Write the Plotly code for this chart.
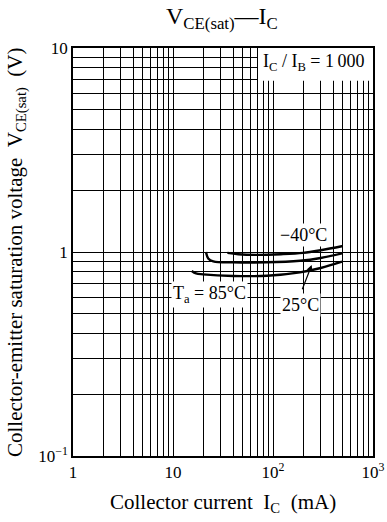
import plotly.graph_objects as go

# Data
ic_m40 = [35, 45, 70, 120, 200, 300, 500]
v_m40 = [0.99, 0.975, 0.968, 0.975, 0.99, 1.02, 1.07]

ic_25 = [21.4, 22.5, 25.3, 40, 86, 186, 300, 490]
v_25 = [1.0, 0.93, 0.90, 0.89, 0.89, 0.906, 0.935, 0.985]

ic_85 = [15.4, 17, 20, 40, 87, 186, 300, 490]
v_85 = [0.807, 0.785, 0.777, 0.763, 0.765, 0.795, 0.835, 0.896]

x_tickvals = [1, 2, 3, 4, 5, 6, 7, 8, 9, 10, 20, 30, 40, 50, 60, 70, 80, 90,
              100, 200, 300, 400, 500, 600, 700, 800, 900, 1000]
x_ticktext = ["1"] + [""] * 8 + ["10"] + [""] * 8 + ["10<sup>2</sup>"] + [""] * 8 + ["10<sup>3</sup>"]
y_tickvals = [0.1, 0.2, 0.3, 0.4, 0.5, 0.6, 0.7, 0.8, 0.9, 1, 2, 3, 4, 5, 6, 7, 8, 9, 10]
y_ticktext = ["10<sup>\u22121</sup>"] + [""] * 8 + ["1"] + [""] * 8 + ["10"]

FONT = "Liberation Serif"
BLACK = "black"
SP2 = "\u00a0\u00a0"

fig = go.Figure()
for xs, ys in [(ic_m40, v_m40), (ic_25, v_25), (ic_85, v_85)]:
    fig.add_trace(go.Scatter(x=xs, y=ys, mode="lines",
                             line=dict(color=BLACK, width=2.4, shape="spline"),
                             showlegend=False, hoverinfo="skip"))

fig.add_shape(type="rect", xref="x", yref="y", x0=70.8, x1=1000, y0=6.9, y1=10,
              fillcolor="white", line=dict(width=0), layer="between")

# annotation coordinates on log axes are log10 values
fig.add_annotation(x=1, xref="paper", y=1, yref="y", xanchor="right", yanchor="top",
                   text="I<sub>C</sub> / I<sub>B</sub> = 1\u2009000", showarrow=False,
                   font=dict(family=FONT, size=18, color=BLACK), xshift=-6, yshift=-1)
fig.add_annotation(x=2.30, y=0.083, xref="x", yref="y", text="\u221240\u00b0C",
                   showarrow=False, bgcolor="white", borderpad=1,
                   font=dict(family=FONT, size=18, color=BLACK))
fig.add_annotation(x=1.36, y=-0.21, xref="x", yref="y", text="T<sub>a</sub> = 85\u00b0C",
                   showarrow=False, bgcolor="white", borderpad=1,
                   font=dict(family=FONT, size=18, color=BLACK))
fig.add_annotation(x=2.27, y=-0.26, xref="x", yref="y", text="25\u00b0C",
                   showarrow=False, bgcolor="white", borderpad=1,
                   font=dict(family=FONT, size=18, color=BLACK))
fig.add_annotation(x=2.387, y=-0.064, xref="x", yref="y", ax=2.287, ay=-0.19,
                   axref="x", ayref="y", text="", showarrow=True,
                   arrowhead=2, arrowsize=1, arrowwidth=1.2, arrowcolor=BLACK)

# title and axis titles
fig.add_annotation(x=0.497, xref="paper", y=1, yref="paper", yanchor="middle", yshift=30,
                   text="V<sub>CE(sat)</sub>\u2014I<sub>C</sub>", showarrow=False,
                   font=dict(family=FONT, size=24, color=BLACK))
fig.add_annotation(x=0.5, xref="paper", y=0, yref="paper", yanchor="middle", yshift=-47,
                   text="Collector current" + SP2 + "I<sub>C</sub>" + SP2 + "(mA)",
                   showarrow=False, font=dict(family=FONT, size=21, color=BLACK))
fig.add_annotation(x=0, xref="paper", y=0.5, yref="paper", xanchor="center", xshift=-57,
                   textangle=-90,
                   text="Collector-emitter saturation voltage" + SP2 + "V<sub>CE(sat)</sub>" + SP2 + "(V)",
                   showarrow=False, font=dict(family=FONT, size=21, color=BLACK))

fig.update_layout(
    width=387, height=522,
    margin=dict(l=73, r=14, t=48, b=66),
    paper_bgcolor="white", plot_bgcolor="white",
    font=dict(family=FONT, color=BLACK, size=17),
    xaxis=dict(type="log", range=[0, 3], tickvals=x_tickvals, ticktext=x_ticktext,
               showgrid=True, gridcolor=BLACK, gridwidth=1, ticks="",
               showline=True, linecolor=BLACK, linewidth=1.5, mirror=True,
               zeroline=False, automargin=False,
               tickfont=dict(family=FONT, size=17, color=BLACK)),
    yaxis=dict(type="log", range=[-1, 1], tickvals=y_tickvals, ticktext=y_ticktext,
               showgrid=True, gridcolor=BLACK, gridwidth=1, ticks="",
               showline=True, linecolor=BLACK, linewidth=1.5, mirror=True,
               zeroline=False, automargin=False,
               tickfont=dict(family=FONT, size=17, color=BLACK)),
)

fig.write_html("out.html", config={"displayModeBar": False},
               post_script="document.body.style.margin='0';")
